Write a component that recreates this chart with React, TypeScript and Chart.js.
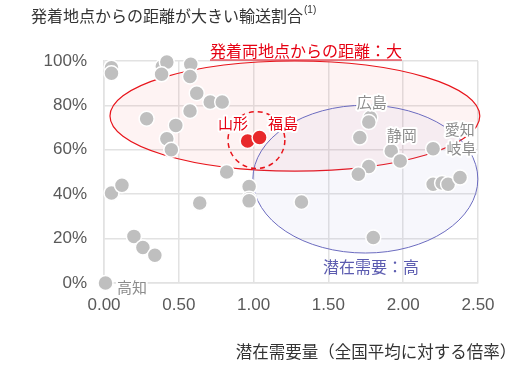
import React, { useEffect, useRef } from 'react';
import { Chart, registerables } from 'chart.js';

Chart.register(...registerables);

// ---- data ----
const grayX = [0.05, 0.05, 0.39, 0.42, 0.385, 0.58, 0.575, 0.62, 0.71, 0.79, 0.575, 0.285, 0.48, 0.42, 0.45, 0.82, 0.05, 0.12, 0.64, 0.97, 0.97, 0.97, 0.2, 0.26, 0.34, 0.01, 1.78, 1.77, 1.71, 1.92, 1.98, 2.2, 1.77, 1.7, 2.2, 2.26, 2.3, 2.38, 1.32, 1.8];
const grayY = [97, 94.5, 97.5, 99.5, 94, 98.5, 93, 85.5, 81.5, 81.5, 77.5, 74, 71, 65, 60, 50, 40.5, 44, 36, 43.5, 38, 37, 21, 16, 12.5, 0, 74.5, 72.5, 65.5, 59.5, 55, 60.5, 52.5, 49, 44.5, 45, 44.5, 47.5, 36.5, 20.5];
const redX = [0.96, 1.04];
const redY = [64, 65.5];
const xTickValues = [0, 0.5, 1, 1.5, 2, 2.5];
const yTickValues = [0, 20, 40, 60, 80, 100];

const titleText = '発着地点からの距離が大きい輸送割合';
const titleNote = '(1)';
const xAxisTitle = '潜在需要量（全国平均に対する倍率）';

// annotation labels: text, x, y (data units)
const grayLabelText = ['広島', '静岡', '愛知', '岐阜', '高知'];
const grayLabelX = [1.79, 1.99, 2.378, 2.39, 0.187];
const grayLabelY = [81.5, 66.7, 69.4, 60.8, -1.8];
const redLabelText = ['山形', '福島'];
const redLabelX = [0.862, 1.196];
const redLabelY = [72.1, 72.1];
const bigDistLabel = '発着両地点からの距離：大';
const bigDistPos = [1.35, 104.5];
const highDemandLabel = '潜在需要：高';
const highDemandPos = [1.784, 7.2];

// ellipses: cx, cy, rx, ry (data units)
const redEllipse = [1.276, 75.2, 1.236, 24.8];
const blueEllipse = [1.747, 46.8, 0.752, 33.3];
const dashCircle = [1.019, 64.4, 0.19, 12.8];

const NUM_FONT = "'Liberation Sans', Arial, sans-serif";
const JP_FONT = "'Noto Sans CJK JP', 'Liberation Sans', sans-serif";

function ellipsePath(ctx: CanvasRenderingContext2D, chart: any, e: number[]) {
  const xs = chart.scales.x;
  const ys = chart.scales.y;
  const cx = xs.getPixelForValue(e[0]);
  const cy = ys.getPixelForValue(e[1]);
  const rx = Math.abs(xs.getPixelForValue(e[0] + e[2]) - cx);
  const ry = Math.abs(ys.getPixelForValue(e[1] + e[3]) - cy);
  ctx.beginPath();
  ctx.ellipse(cx, cy, rx, ry, 0, 0, Math.PI * 2);
}

const overlayPlugin = {
  id: 'overlay',
  beforeDatasetsDraw(chart: any) {
    const ctx = chart.ctx as CanvasRenderingContext2D;
    ctx.save();
    ellipsePath(ctx, chart, redEllipse);
    ctx.fillStyle = 'rgba(240,90,90,0.07)';
    ctx.fill();
    ctx.lineWidth = 1.2;
    ctx.strokeStyle = '#e8141b';
    ctx.stroke();
    ellipsePath(ctx, chart, blueEllipse);
    ctx.fillStyle = 'rgba(140,140,210,0.07)';
    ctx.fill();
    ctx.lineWidth = 1;
    ctx.strokeStyle = '#6b6bbf';
    ctx.stroke();
    ctx.restore();
  },
  afterDatasetsDraw(chart: any) {
    const ctx = chart.ctx as CanvasRenderingContext2D;
    const xs = chart.scales.x;
    const ys = chart.scales.y;
    ctx.save();
    // dashed circle
    ellipsePath(ctx, chart, dashCircle);
    ctx.setLineDash([5, 4]);
    ctx.lineWidth = 1.5;
    ctx.strokeStyle = '#e8141b';
    ctx.stroke();
    ctx.setLineDash([]);

    ctx.textAlign = 'center';
    ctx.textBaseline = 'middle';
    ctx.lineJoin = 'round';
    // gray labels
    ctx.font = `15px ${JP_FONT}`;
    grayLabelText.forEach((t, i) => {
      const px = xs.getPixelForValue(grayLabelX[i]);
      const py = ys.getPixelForValue(grayLabelY[i]);
      ctx.strokeStyle = '#ffffff';
      ctx.lineWidth = 4;
      ctx.strokeText(t, px, py);
      ctx.fillStyle = '#8c8c8c';
      ctx.fillText(t, px, py);
    });
    redLabelText.forEach((t, i) => {
      const px = xs.getPixelForValue(redLabelX[i]);
      const py = ys.getPixelForValue(redLabelY[i]);
      ctx.strokeStyle = '#ffffff';
      ctx.lineWidth = 4;
      ctx.strokeText(t, px, py);
      ctx.fillStyle = '#e60012';
      ctx.fillText(t, px, py);
    });
    // big distance label
    ctx.font = `16px ${JP_FONT}`;
    {
      const px = xs.getPixelForValue(bigDistPos[0]);
      const py = ys.getPixelForValue(bigDistPos[1]);
      ctx.fillStyle = '#e60012';
      ctx.fillText(bigDistLabel, px, py);
      const w = ctx.measureText(bigDistLabel).width;
      ctx.beginPath();
      ctx.moveTo(px - w / 2, py + 9);
      ctx.lineTo(px + w / 2, py + 9);
      ctx.lineWidth = 1.2;
      ctx.strokeStyle = '#e60012';
      ctx.stroke();
    }
    {
      const px = xs.getPixelForValue(highDemandPos[0]);
      const py = ys.getPixelForValue(highDemandPos[1]);
      ctx.fillStyle = '#5c5cb0';
      ctx.fillText(highDemandLabel, px, py);
    }
    // title
    ctx.textAlign = 'left';
    ctx.font = `16px ${JP_FONT}`;
    ctx.fillStyle = '#333333';
    ctx.fillText(titleText, 31, 16);
    const tw = ctx.measureText(titleText).width;
    ctx.font = `10px ${NUM_FONT}`;
    ctx.fillText(titleNote, 31 + tw + 1, 10);
    // x axis title
    ctx.textAlign = 'center';
    ctx.font = `16.5px ${JP_FONT}`;
    ctx.fillStyle = '#333333';
    ctx.fillText(xAxisTitle, 376, 352);
    ctx.restore();
  },
};

export default function App() {
  const ref = useRef<HTMLCanvasElement>(null);
  useEffect(() => {
    if (!ref.current) return;
    const chart = new Chart(ref.current, {
      type: 'scatter',
      data: {
        datasets: [
          {
            data: redX.map((x, i) => ({ x, y: redY[i] })),
            backgroundColor: '#e8292b',
            borderColor: '#ffffff',
            borderWidth: 1.5,
            pointRadius: 7.5,
            clip: false,
            order: 0,
          },
          {
            data: grayX.map((x, i) => ({ x, y: grayY[i] })),
            backgroundColor: '#bfbfbf',
            borderColor: '#ffffff',
            borderWidth: 1.5,
            pointRadius: 7.5,
            clip: false,
            order: 1,
          },
        ],
      },
      options: {
        responsive: false,
        animation: false,
        layout: { padding: { top: 61, right: 49, left: 0, bottom: 0 } },
        plugins: { legend: { display: false }, tooltip: { enabled: false }, title: { display: false } },
        scales: {
          x: {
            type: 'linear',
            min: 0,
            max: 2.5,
            afterFit: (s: any) => { s.height = 85; },
            afterBuildTicks: (s: any) => { s.ticks = xTickValues.map((v) => ({ value: v })); },
            ticks: {
              padding: 12,
              color: '#595959',
              font: { size: 17, family: NUM_FONT },
              callback: (v: any) => Number(v).toFixed(2),
            },
            grid: { color: '#e2e2e2', lineWidth: 1.5, drawTicks: false },
            border: { color: '#e2e2e2', width: 1.5 },
          },
          y: {
            type: 'linear',
            min: 0,
            max: 100,
            afterFit: (s: any) => { s.width = 104; },
            afterBuildTicks: (s: any) => { s.ticks = yTickValues.map((v) => ({ value: v })); },
            ticks: {
              padding: 17,
              color: '#595959',
              font: { size: 17, family: NUM_FONT },
              callback: (v: any) => `${v}%`,
            },
            grid: { color: '#e2e2e2', lineWidth: 1.5, drawTicks: false },
            border: { color: '#e2e2e2', width: 1.5 },
          },
        },
      },
      plugins: [overlayPlugin],
    });
    return () => chart.destroy();
  }, []);
  return (
    <div style={{ position: 'fixed', left: 0, top: 0, width: 527, height: 368, background: '#ffffff' }}>
      <canvas ref={ref} width={527} height={368} style={{ width: 527, height: 368, display: 'block' }} />
    </div>
  );
}
